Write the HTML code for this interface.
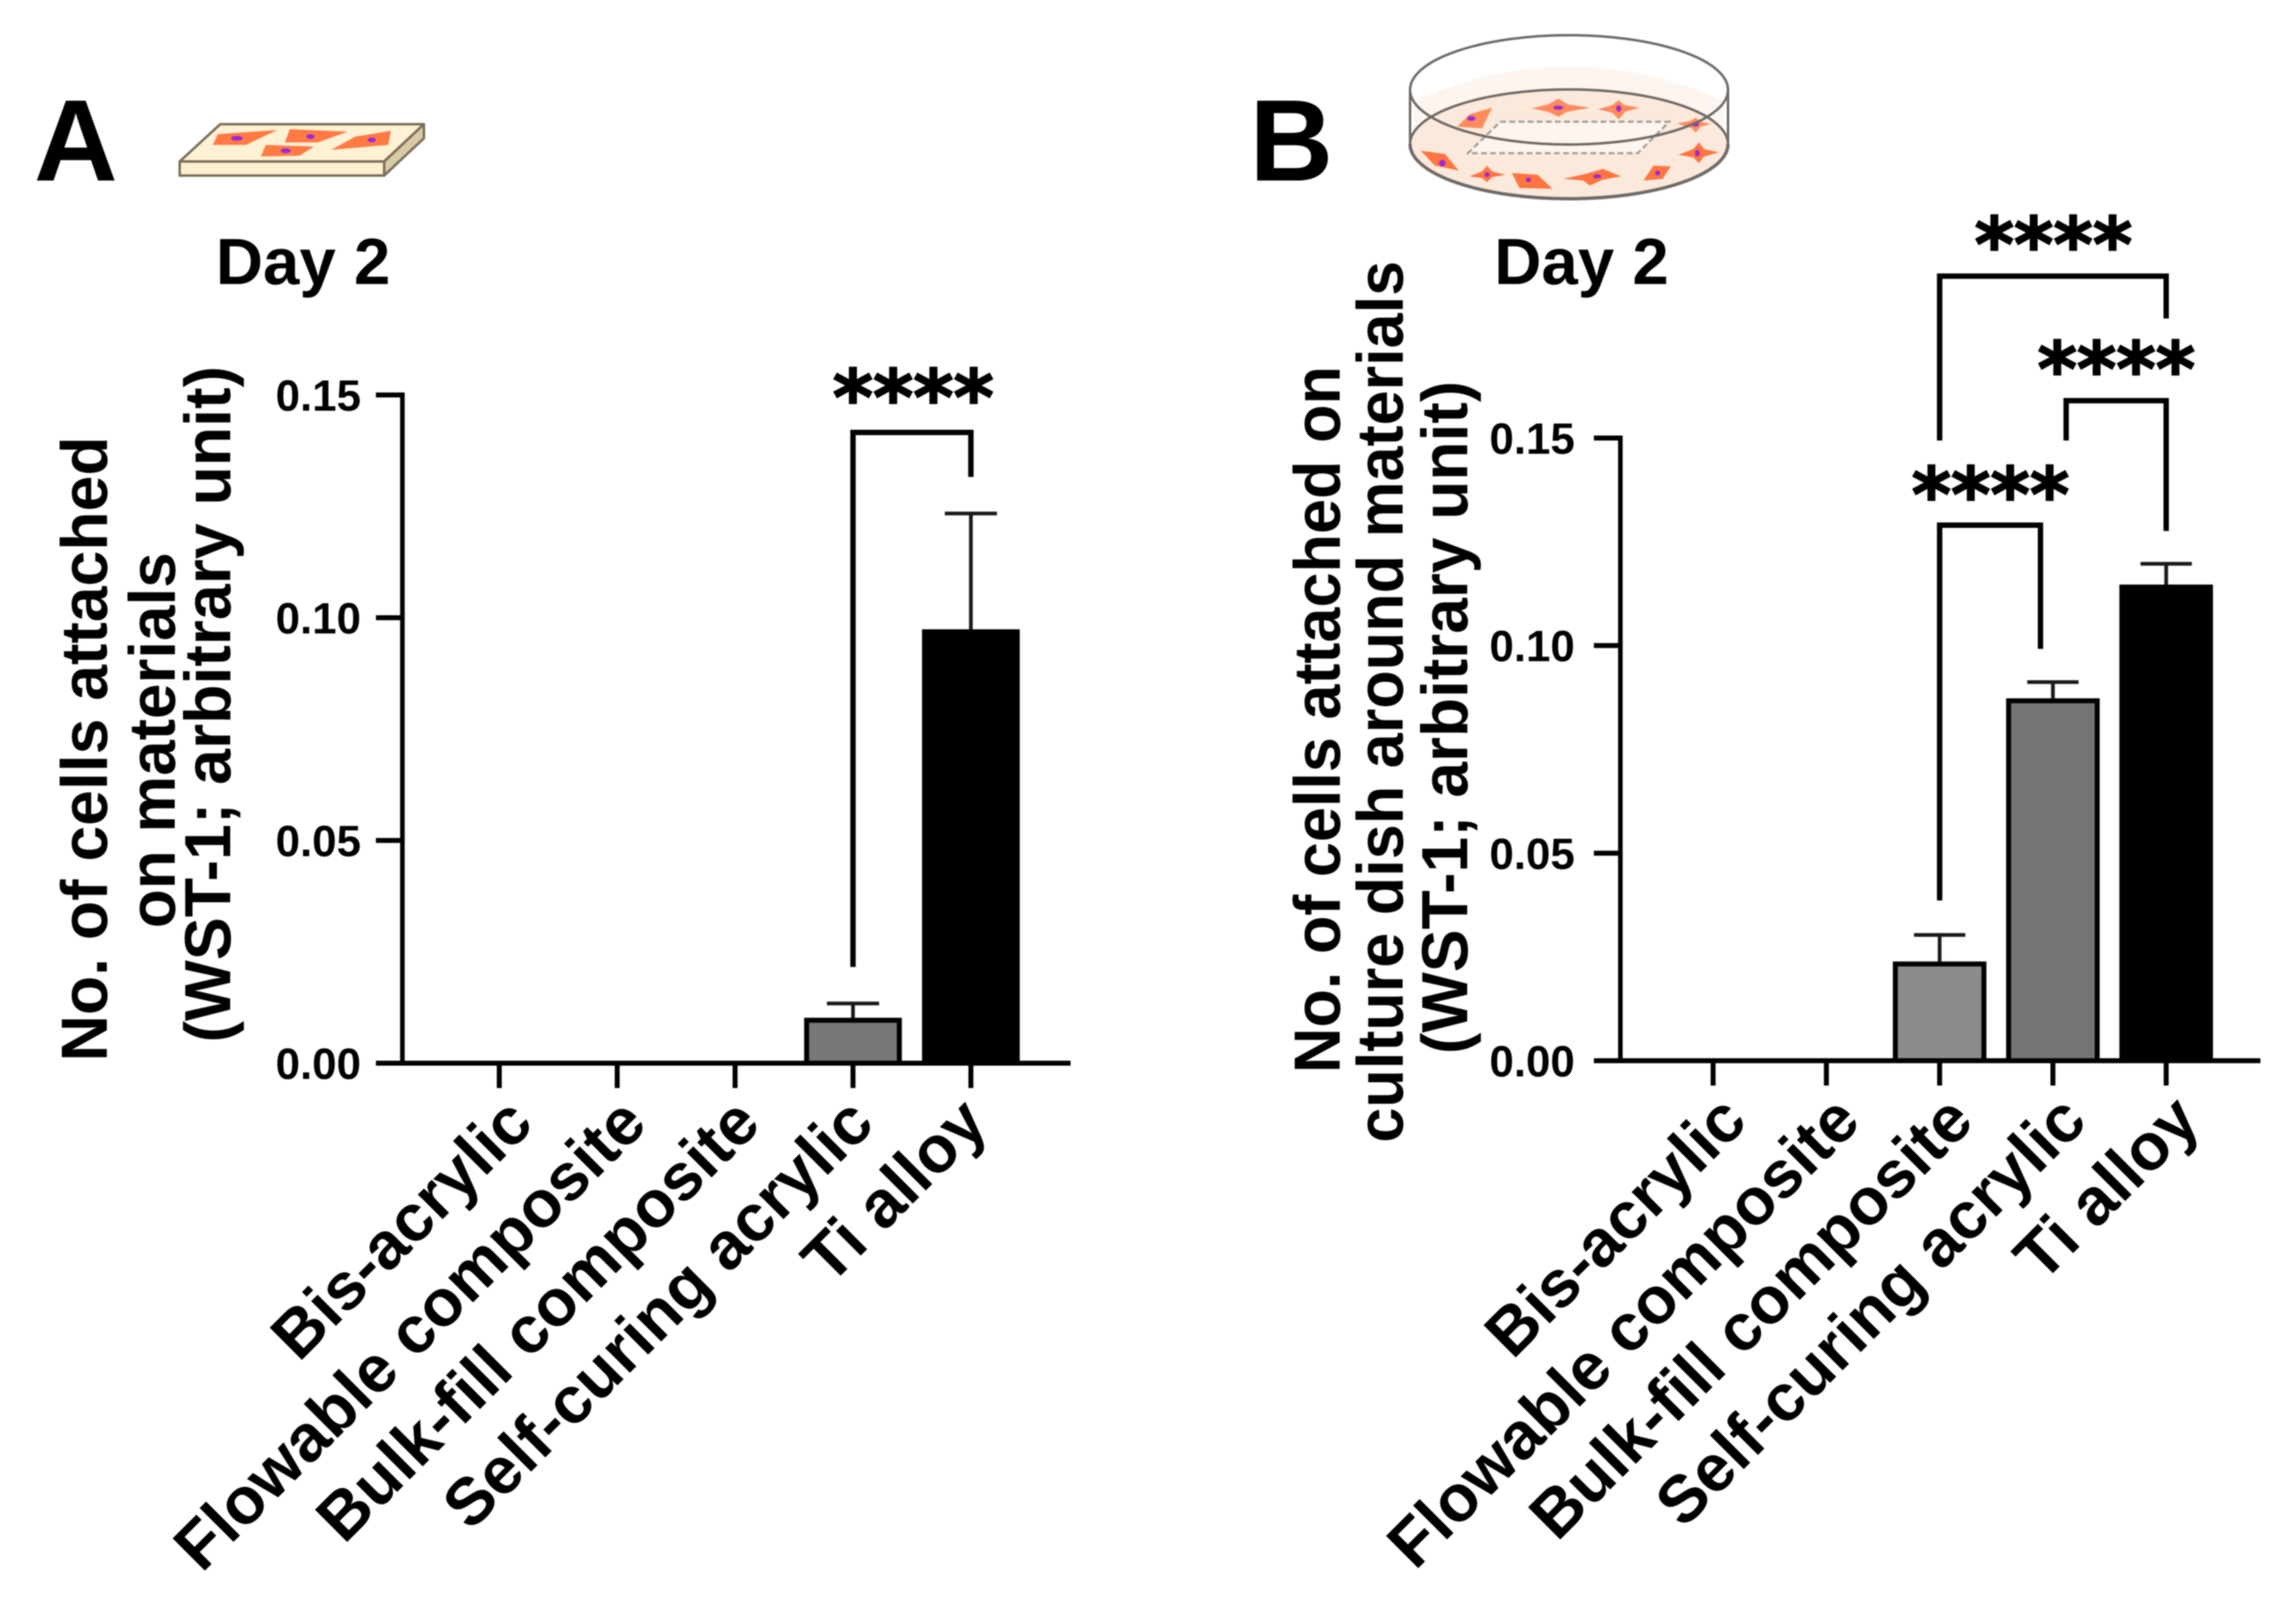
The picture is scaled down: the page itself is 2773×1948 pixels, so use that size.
<!DOCTYPE html>
<html lang="en">
<head>
<meta charset="utf-8">
<title>Cell attachment on materials, day 2</title>
<style>
html,body{margin:0;padding:0;background:#fff;}
svg{display:block;font-family:"Liberation Sans",Arial,sans-serif;font-weight:bold;filter:blur(0.7px);}
</style>
</head>
<body>
<svg id="fig" width="2773" height="1948" viewBox="0 0 2773 1948" xmlns="http://www.w3.org/2000/svg">
  <rect x="0" y="0" width="2773" height="1948" fill="#fff"/>

  <text x="41" y="218" font-size="140">A</text>
  <text x="1509" y="218" font-size="140">B</text>
  <text x="366" y="343" font-size="79" text-anchor="middle">Day 2</text>
  <text x="1910" y="343" font-size="79" text-anchor="middle">Day 2</text>

  <g stroke="#7a705a" stroke-width="3" stroke-linejoin="round">
    <polygon points="217,195 266,150 512,150 464,195" fill="#fff2d4"/>
    <polygon points="217,195 464,195 464,212 217,212" fill="#fff0cf"/>
    <polygon points="464,195 512,150 512,167 464,212" fill="#d8cba6"/>
    <g stroke="none" fill="#ff7a45">
      <polygon points="263,162 335,157 297,175 257,175"/>
      <polygon points="350,156 420,159 384,172 344,172"/>
      <polygon points="321,175 379,177 362,188 315,189"/>
      <polygon points="472,158 469,175 400,181 429,165"/>
    </g>
    <g stroke="none" fill="#9a2bd0">
      <ellipse cx="286" cy="167" rx="7" ry="3"/>
      <ellipse cx="375" cy="165" rx="5" ry="3"/>
      <ellipse cx="345" cy="182" rx="6" ry="3"/>
      <ellipse cx="449" cy="169" rx="5" ry="3"/>
    </g>
  </g>

  <g>
    <path d="M1703 108 A192 66 0 0 1 2087 108 V174 A192 66 0 0 1 1703 174 Z" fill="#fff"/>
    <path d="M1708 122 Q1895 38 2082 122 V174 A192 66 0 0 1 1708 174 Z" fill="#fdf5ef"/>
    <ellipse cx="1895" cy="174.5" rx="192" ry="66" fill="#fbe9dc"/>
    <polygon points="1812,147 2016,147 1978,185 1773,185" fill="#fdf5ef" stroke="#a09a94" stroke-width="2.5" stroke-dasharray="7 4"/>
    <g fill="#ff8a5c">
      <polygon points="1882,119 1893,126 1920,130 1893,135 1882,141 1870,135 1850,131 1870,126"/>
      <polygon points="1955,121 1962,127 1980,130 1963,135 1955,144 1947,136 1930,132 1947,127"/>
      <polygon points="1802,130 1790,155 1760,153 1775,138"/>
      <polygon points="2048,142 2054,147 2066,150 2054,153 2048,160 2042,154 2025,149 2042,146"/>
    </g>
    <g fill="#ff7440">
      <polygon points="2052,172 2058,180 2076,184 2058,189 2052,197 2045,190 2027,187 2045,180"/>
      <polygon points="1716,182 1745,186 1762,206 1733,200"/>
      <polygon points="1796,200 1802,207 1818,211 1802,214 1796,220 1790,215 1775,213 1790,207"/>
      <polygon points="1826,209 1857,211 1875,228 1835,227"/>
      <polygon points="1936,204 1948,209 1958,213 1936,217 1920,224 1912,218 1888,216 1915,210"/>
      <polygon points="1997,200 2018,201 2008,216 1985,218"/>
    </g>
    <g fill="#9a2bd0">
      <ellipse cx="1882" cy="130" rx="6" ry="2.5"/>
      <ellipse cx="1955" cy="131" rx="3" ry="4"/>
      <ellipse cx="1777" cy="143" rx="5" ry="3"/>
      <ellipse cx="2048" cy="150" rx="4" ry="3"/>
      <ellipse cx="2050" cy="185" rx="3" ry="4"/>
      <ellipse cx="1742" cy="197" rx="4" ry="4"/>
      <ellipse cx="1796" cy="211" rx="3" ry="3"/>
      <ellipse cx="1846" cy="217" rx="3" ry="3"/>
      <ellipse cx="1929" cy="213" rx="5" ry="2.5"/>
      <ellipse cx="2002" cy="209" rx="3" ry="3"/>
    </g>
    <g fill="none" stroke="#6f6a66" stroke-width="3">
      <ellipse cx="1895" cy="108.5" rx="192" ry="66"/>
      <path d="M1703 174 A192 66 0 0 1 2087 174"/>
      <path d="M1703 174 A192 66 0 0 0 2087 174" stroke-width="4"/>
      <path d="M1703 108 V174 M2087 108 V174"/>
    </g>
  </g>

  <g font-size="79">
    <text transform="translate(129 527) rotate(-90)" text-anchor="end" textLength="755" lengthAdjust="spacingAndGlyphs">No. of cells attached</text>
    <text transform="translate(211 667) rotate(-90)" text-anchor="end" textLength="454" lengthAdjust="spacingAndGlyphs">on materials</text>
    <text transform="translate(278 442) rotate(-90)" text-anchor="end" textLength="817" lengthAdjust="spacingAndGlyphs">(WST-1; arbitrary unit)</text>
  </g>
  <g font-size="79">
    <text transform="translate(1618 442) rotate(-90)" text-anchor="end" textLength="854" lengthAdjust="spacingAndGlyphs">No. of cells attached on</text>
    <text transform="translate(1694 315) rotate(-90)" text-anchor="end" textLength="1065" lengthAdjust="spacingAndGlyphs">culture dish around materials</text>
    <text transform="translate(1772 460) rotate(-90)" text-anchor="end" textLength="813" lengthAdjust="spacingAndGlyphs">(WST-1; arbitrary unit)</text>
  </g>
  <g id="chart-a"></g>
  <g id="chart-b"></g>
</svg>

<script>
var categoriesA = ["Bis-acrylic", "Flowable composite", "Bulk-fill composite", "Self-curing acrylic", "Ti alloy"];
var categoriesB = ["Bis-acrylic", "Flowable composite", "Bulk-fill composite", "Self-curing acrylic", "Ti alloy"];
var yTickValues = [0, 0.05, 0.10, 0.15];
var yTickLabels = ["0.00", "0.05", "0.10", "0.15"];
var meansA = [0, 0, 0, 0.0102, 0.0974];
var errorTopsA = [0, 0, 0, 0.0134, 0.1234];
var meansB = [0, 0, 0.0239, 0.0873, 0.1147];
var errorTopsB = [0, 0, 0.0303, 0.0912, 0.1197];
var fillsA = ["#cfcfcf", "#afafaf", "#8f8f8f", "#777777", "#000000"];
var fillsB = ["#cfcfcf", "#afafaf", "#8c8c8c", "#747474", "#000000"];
var starsLabel = "****";

var NS = "http://www.w3.org/2000/svg";
function mk(parent, tag, props) {
  var node = document.createElementNS(NS, tag);
  for (var k in props) node.setAttribute(k, props[k]);
  parent.appendChild(node);
  return node;
}
function slug(s) { return s.toLowerCase().replace(/[^a-z0-9]+/g, "-"); }

function drawPanel(cfg) {
  var g = document.getElementById(cfg.id);
  function yScale(v) { return cfg.y0 - (v / 0.15) * (cfg.y0 - cfg.y15); }
  function xScale(i) { return cfg.x0 + i * cfg.step; }
  cfg.means.forEach(function (m, i) {
    var cx = xScale(i), top = yScale(m), capY = yScale(cfg.errs[i]);
    if (cfg.errs[i] > 0) {
      var stem = mk(g, "line", {x1: cx, x2: cx, y1: top, y2: capY, stroke: "#1a1a1a", "stroke-width": 4.5});
      
      
      var cap = mk(g, "line", {x1: cx - cfg.capW / 2, x2: cx + cfg.capW / 2, y1: capY, y2: capY, stroke: "#1a1a1a", "stroke-width": 4.5});
      
      
    }
    var bar = mk(g, "rect", {x: cx - cfg.barW / 2 + 3, y: top + 3, width: cfg.barW - 6, height: Math.max(0, cfg.y0 - top - 3), fill: cfg.fills[i], stroke: "#000", "stroke-width": 6});
    
    
  });
  var yAxis = mk(g, "line", {x1: cfg.axisX, x2: cfg.axisX, y1: yScale(0.15) - 3, y2: cfg.y0 + 3, stroke: "#000", "stroke-width": 5.5});
  
  
  var xAxis = mk(g, "line", {x1: cfg.axisX - 32, x2: cfg.axisEnd, y1: cfg.y0, y2: cfg.y0, stroke: "#000", "stroke-width": 6});
  
  
  yTickValues.forEach(function (v, i) {
    var ty = yScale(v);
    var tick = mk(g, "line", {x1: cfg.axisX - 32, x2: cfg.axisX, y1: ty, y2: ty, stroke: "#000", "stroke-width": 6});
    
    
    var label = mk(g, "text", {x: cfg.tickLabelX, y: ty + 19, "font-size": 53, "text-anchor": "end"});
    label.textContent = yTickLabels[i];
    
    
  });
  cfg.cats.forEach(function (c, i) {
    var tx = xScale(i);
    var tick = mk(g, "line", {x1: tx, x2: tx, y1: cfg.y0, y2: cfg.y0 + 30, stroke: "#000", "stroke-width": 6});
    
    
    var lx = cfg.labelX0 + i * cfg.labelStep, ly = cfg.y0 + cfg.labelDy;
    var label = mk(g, "text", {x: lx, y: ly, "font-size": 80, "text-anchor": "end", transform: "rotate(-45 " + lx + " " + ly + ")"});
    label.textContent = c;
    
    
  });
  cfg.brackets.forEach(function (b, n) {
    var lx = xScale(b.from) + b.fromShift, rx = xScale(b.to) + b.toShift;
    var top = yScale(b.top), le = yScale(b.leftEnd), re = yScale(b.rightEnd);
    var path = mk(g, "path", {d: "M" + lx + " " + le + " V" + top + " H" + rx + " V" + re, fill: "none", stroke: "#000", "stroke-width": 6.5});
    
    
    var stars = mk(g, "text", {x: b.starsX, y: top + b.starsDy, "font-size": cfg.starSize, "text-anchor": "middle", "font-family": "'DejaVu Sans', sans-serif", stroke: "#000", "stroke-width": 2});
    stars.textContent = starsLabel;
    
    
  });
}

drawPanel({
  id: "chart-a", cats: categoriesA, means: meansA, errs: errorTopsA, fills: fillsA,
  y0: 1284, y15: 477, x0: 603, step: 142.4, barW: 118, capW: 63, axisX: 486, axisEnd: 1293,
  tickLabelX: 436, labelX0: 647, labelStep: 137.25, labelDy: 76, starSize: 93,
  brackets: [{from: 3, to: 4, fromShift: 0, toShift: 0, top: 0.1416, leftEnd: 0.0216, rightEnd: 0.1316, starsX: 1103, starsDy: -9}]
});
drawPanel({
  id: "chart-b", cats: categoriesB, means: meansB, errs: errorTopsB, fills: fillsB,
  y0: 1281, y15: 529, x0: 2069, step: 136.8, barW: 113, capW: 62, axisX: 1957, axisEnd: 2730,
  tickLabelX: 1902, labelX0: 2113, labelStep: 136.8, labelDy: 76, starSize: 91,
  brackets: [
    {from: 2, to: 4, fromShift: 0, toShift: 0, top: 0.1890, leftEnd: 0.1494, rightEnd: 0.1788, starsX: 2480, starsDy: -6},
    {from: 3, to: 4, fromShift: 16, toShift: 0, top: 0.1590, leftEnd: 0.1494, rightEnd: 0.1276, starsX: 2556, starsDy: -6},
    {from: 2, to: 3, fromShift: 0, toShift: -15, top: 0.1290, leftEnd: 0.0386, rightEnd: 0.0992, starsX: 2404, starsDy: -5}
  ]
});
</script>
</body>
</html>
